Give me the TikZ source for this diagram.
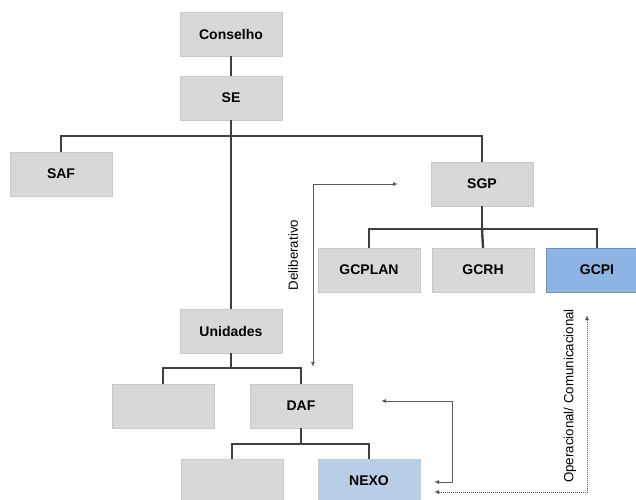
\documentclass[tikz,border=0pt]{standalone}
\usepackage{fontspec}
\setmainfont{Liberation Sans}
\usetikzlibrary{arrows.meta}
\definecolor{boxgray}{HTML}{D8D8D8}
\definecolor{boxedge}{HTML}{C8C8C8}
\definecolor{boxblue}{HTML}{8DB4E2}
\definecolor{boxblueedge}{HTML}{6A90C4}
\definecolor{boxpale}{HTML}{B9CDE6}
\definecolor{linegray}{HTML}{404040}
\definecolor{flowgray}{HTML}{5A5A5A}
\begin{document}
\begin{tikzpicture}[x=1pt,y=-1pt,
    unit/.style={draw=boxedge,fill=boxgray,minimum width=102pt,minimum height=44pt,
      inner sep=0pt,font=\fontsize{14}{16}\selectfont\bfseries},
    orgline/.style={draw=linegray,line width=2.4pt},
    flow/.style={draw=flowgray,line width=1pt,{Latex[length=5pt,width=4pt]}-{Latex[length=5pt,width=4pt]}},
    flowlabel/.style={rotate=90,font=\fontsize{13.3}{15}\selectfont}]
    \useasboundingbox (0,0) rectangle (636,499);

    % top of the chart
    \node[unit] (conselho) at (231,34) {Conselho};
    \node[unit] (se) at (231,98) {SE};
    \node[unit] (saf) at (61,174) {SAF};
    \node[unit] (sgp) at (482,184) {SGP};

    % SGP units
    \node[unit] (gcplan) at (369,270) {GCPLAN};
    \node[unit] (gcrh) at (483,270) {GCRH};
    \node[unit,fill=boxblue,draw=boxblueedge] (gcpi) at (597,270) {GCPI};

    % units
    \node[unit] (unidades) at (231,331) {Unidades};
    \node[unit] (blanka) at (163,406) {};
    \node[unit] (daf) at (301,406) {DAF};
    \node[unit] (blankb) at (232,481) {};
    \node[unit,fill=boxpale] (nexo) at (369,481) {NEXO};

    \draw[orgline] (conselho) -- (se);
    \draw[orgline] (se) -- (unidades);
    \draw[orgline] (saf.north) -- ++(0,-16) -| (sgp.north);
    \draw[orgline] (sgp.south) -- ++(0,23) coordinate (sgpbus);
    \draw[orgline] (gcplan.north) |- (sgpbus) -| (gcpi.north);
    \draw[orgline] (sgpbus) -- (gcrh.north);
    \draw[orgline] (unidades.south) -- ++(0,15) coordinate (unibus);
    \draw[orgline] (blanka.north) |- (unibus) -| (daf.north);
    \draw[orgline] (daf.south) -- ++(0,16) coordinate (dafbus);
    \draw[orgline] (blankb.north) |- (dafbus) -| (nexo.north);

    % flows
    \coordinate (delibsgp) at (398,184);
    \coordinate (delibdaf) at (313,367);
    \draw[flow] (delibdaf) |- (delibsgp);
    \node[flowlabel] (delib) at (293,255) {Deliberativo};

    \coordinate (opdaf) at (381,401);
    \coordinate (opturn) at (452,482);
    \coordinate (opnexo) at (434,482);
    \draw[flow] (opdaf) -| (opturn) -- (opnexo);

    \coordinate (comnexo) at (434,492);
    \coordinate (comgcpi) at (587,315);
    \draw[flow,densely dotted] (comnexo) -| (comgcpi);
    \node[flowlabel] (comlabel) at (570,396) {Operacional/ Comunicacional};
\end{tikzpicture}
\end{document}
